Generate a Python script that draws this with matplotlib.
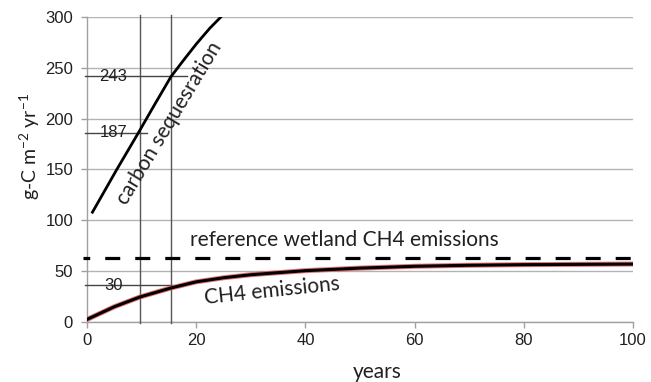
import matplotlib
matplotlib.use("Agg")
import matplotlib.pyplot as plt

# ---- data ----
carbon_years = [1.0, 5.4, 9.4, 12.4, 15.4, 17.9, 20.1, 22.5, 24.7]
carbon_vals = [108, 149.5, 186, 214, 241.5, 259, 274, 289, 301]

ch4_years = [0, 5, 9.7, 15.4, 20, 25, 30, 40, 50, 60, 70, 80, 90, 100]
ch4_vals = [2.5, 15, 24.6, 33.5, 39.5, 43.5, 46.5, 50.5, 53, 54.8, 55.8, 56.4, 56.7, 57]

reference_level = 63

vline_years = [9.7, 15.4]
hline_levels = [241.5, 186, 36]
hline_ends = [18.4, 10.9, 15.5]
hline_labels = ["243", "187", "30"]

x_ticks = [0, 20, 40, 60, 80, 100]
y_ticks = [0, 50, 100, 150, 200, 250, 300]

LBL_FONT = ["Lato", "DejaVu Sans"]
NUM_FONT = ["Liberation Sans", "DejaVu Sans"]
TXT = "#231f20"

plt.rcParams["mathtext.fontset"] = "custom"
plt.rcParams["mathtext.rm"] = "Lato"
plt.rcParams["mathtext.it"] = "Lato"

fig = plt.figure(figsize=(6.51, 3.82), dpi=100)
ax = fig.add_axes([87 / 651, 60 / 382, 546 / 651, 305 / 382])

ax.set_xlim(0, 100)
ax.set_ylim(0, 300)
ax.set_xticks(x_ticks)
ax.set_yticks(y_ticks)
for lab in ax.get_xticklabels() + ax.get_yticklabels():
    lab.set_fontfamily(NUM_FONT)
    lab.set_fontsize(12)

ax.grid(axis="y", color="#b3b3b3", lw=1.0)
ax.set_axisbelow(True)
for s in ["top", "right"]:
    ax.spines[s].set_visible(False)
for s in ["left", "bottom"]:
    ax.spines[s].set_color("#a0a0a0")
    ax.spines[s].set_linewidth(1.0)
ax.tick_params(axis="both", colors="#a0a0a0", length=4, width=1, labelcolor=TXT)
ax.tick_params(axis="x", pad=4)
ax.tick_params(axis="y", pad=6)

# reference lines
for xv in vline_years:
    ax.plot([xv, xv], [-1, 302], color="#555555", lw=1.0, clip_on=False, zorder=3)
for yv, xe, lab in zip(hline_levels, hline_ends, hline_labels):
    ax.plot([-0.4, xe], [yv, yv], color="#444444", lw=1.0, clip_on=False, zorder=3)
    ax.text(4.8, yv, lab, ha="center", va="center", fontsize=12,
            family=NUM_FONT, color=TXT, zorder=4)

# dashed reference
ax.plot([-0.7, 100], [reference_level, reference_level], color="black", lw=2.3,
        linestyle=(2.6, (4.7, 4.7)), clip_on=False, zorder=4)

# carbon sequestration
ax.plot(carbon_years, carbon_vals, color="black", lw=2.0, zorder=5)

# CH4 emissions
ax.plot(ch4_years, ch4_vals, color="#e05050", lw=3.6, alpha=0.8, zorder=5,
        solid_capstyle="round")
ax.plot(ch4_years, ch4_vals, color="black", lw=2.2, zorder=6,
        solid_capstyle="round")

ax.text(15.0, 196, "carbon sequesration", rotation=59, ha="center", va="center",
        fontsize=15, family=LBL_FONT, color=TXT, rotation_mode="anchor")
ax.text(47.2, 80.5, "reference wetland CH4 emissions", ha="center", va="center",
        fontsize=15, family=LBL_FONT, color=TXT)
ax.text(33.9, 31, "CH4 emissions", rotation=6, ha="center", va="center",
        fontsize=15, family=LBL_FONT, color=TXT, rotation_mode="anchor")

ax.set_xlabel("years", fontsize=15, family=LBL_FONT, color=TXT)
ax.xaxis.set_label_coords((377 - 87) / 546, -(372 - 322) / 305)
ax.set_ylabel(r"g-C m$^{-2}$ yr$^{-1}$", fontsize=14, family=LBL_FONT, color=TXT)
ax.yaxis.set_label_coords(-(87 - 30) / 546, (322 - 146) / 305)
ax.xaxis.label.set_verticalalignment("center")
ax.yaxis.label.set_verticalalignment("center")

fig.savefig("out.png", dpi=100)
